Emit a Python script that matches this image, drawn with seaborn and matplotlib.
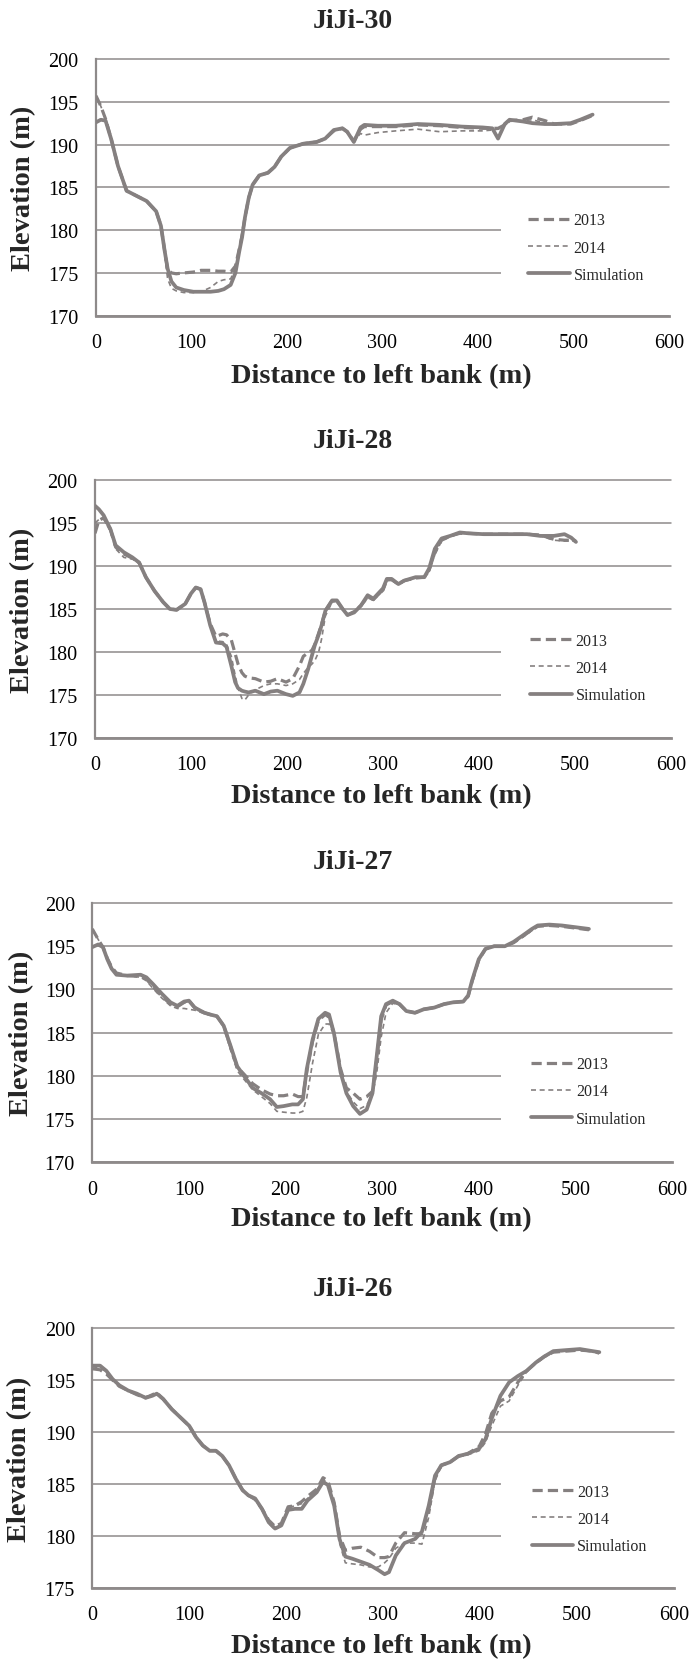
import numpy as np
import pandas as pd
import matplotlib
matplotlib.use("Agg")
import matplotlib.pyplot as plt
from matplotlib.patches import Rectangle
import seaborn as sns

# ---------------- data ----------------
series_names = ["2013", "2014", "Simulation"]
x_ticks = [0, 100, 200, 300, 400, 500, 600]

titles = ["JiJi-30", "JiJi-28", "JiJi-27", "JiJi-26"]
y_limits = [(170, 200), (170, 200), (170, 200), (175, 200)]

# JiJi-30
jj30_x = [0, 5, 10, 16, 23, 32, 39, 53, 63, 68,
          72, 75, 79, 84, 92, 102, 110, 120, 128, 134,
          141, 146, 150, 153, 156, 160, 164, 171, 180, 187,
          194, 203, 217, 231, 240, 249, 258, 263, 270, 277,
          281, 295, 314, 337, 360, 383, 405, 415, 421, 428,
          433, 447, 457, 470, 480, 497, 507, 520]
jj30_2013 = [195.7, 194.5, 193.0, 190.6, 187.5, 184.6, 184.2, 183.4, 182.2, 180.5,
             177.5, 175.4, 175.0, 174.9, 175.0, 175.1, 175.3, 175.3, 175.2, 175.2,
             175.1, 175.8, 177.8, 179.4, 181.5, 183.8, 185.3, 186.4, 186.7, 187.4,
             188.6, 189.6, 190.1, 190.3, 190.7, 191.6, 191.9, 191.5, 190.4, 191.8,
             192.1, 192.1, 192.1, 192.3, 192.2, 192.0, 191.9, 191.9, 191.9, 192.3,
             192.8, 192.9, 193.2, 192.8, 192.4, 192.4, 192.8, 193.4]
jj30_2014 = [195.7, 194.5, 193.0, 190.6, 187.5, 184.6, 184.2, 183.4, 182.2, 180.5,
             177.0, 174.3, 173.2, 172.9, 172.7, 172.7, 172.8, 173.3, 174.0, 174.2,
             174.3, 175.6, 177.6, 179.3, 181.5, 183.8, 185.3, 186.4, 186.7, 187.4,
             188.6, 189.6, 190.1, 190.3, 190.7, 191.6, 191.9, 191.5, 190.4, 191.3,
             191.1, 191.4, 191.6, 191.8, 191.5, 191.6, 191.6, 191.7, 191.8, 192.2,
             192.8, 192.8, 192.9, 192.5, 192.3, 192.4, 192.8, 193.4]
jj30_sim = [192.6, 192.9, 192.8, 190.6, 187.5, 184.6, 184.2, 183.4, 182.2, 180.5,
            177.5, 175.5, 174.0, 173.3, 173.0, 172.8, 172.8, 172.8, 172.9, 173.1,
            173.6, 175.0, 177.5, 179.2, 181.5, 183.8, 185.3, 186.4, 186.7, 187.4,
            188.6, 189.6, 190.1, 190.3, 190.7, 191.7, 191.9, 191.5, 190.3, 192.0,
            192.3, 192.2, 192.2, 192.4, 192.3, 192.1, 192.0, 191.9, 190.7, 192.4,
            192.9, 192.7, 192.5, 192.4, 192.4, 192.5, 192.9, 193.5]

# JiJi-28
jj28_x = [0, 4, 9, 16, 21.5, 30, 39, 46, 53, 62,
          71, 78, 85, 94, 100, 105, 110, 114, 120, 126,
          133, 137, 142, 146, 149, 153, 156, 160, 167, 176,
          183, 190, 199, 206, 213, 217, 222, 226, 229, 233,
          236, 240, 247, 252, 258, 263, 270, 277, 284, 290,
          300, 304, 309, 316, 322, 334, 343, 348, 354, 361,
          370, 380, 389, 405, 428, 450, 464, 478, 489, 496,
          501]
jj28_2013 = [193.8, 195.3, 195.6, 194.3, 192.2, 191.4, 190.9, 190.4, 188.7, 187.1,
             185.8, 185.0, 184.9, 185.6, 186.8, 187.5, 187.3, 185.8, 183.3, 181.8,
             182.1, 182.0, 181.4, 179.8, 178.6, 177.6, 177.2, 177.0, 176.9, 176.5,
             176.6, 176.9, 176.5, 176.9, 178.4, 179.5, 179.9, 180.2, 180.9, 182.2,
             183.2, 184.8, 186.0, 185.9, 185.0, 184.3, 184.7, 185.4, 186.4, 186.1,
             187.2, 188.4, 188.4, 187.9, 188.3, 188.6, 188.7, 189.5, 191.6, 193.0,
             193.5, 193.8, 193.8, 193.7, 193.7, 193.7, 193.6, 193.1, 193.0, 193.0,
             192.9]
jj28_2014 = [195.0, 195.4, 195.5, 194.0, 192.0, 191.0, 190.8, 190.3, 188.6, 187.1,
             185.8, 185.0, 184.9, 185.6, 186.8, 187.5, 187.3, 185.8, 183.2, 181.3,
             181.2, 180.9, 179.5, 177.3, 175.8, 174.6, 174.4, 175.0, 175.6, 176.1,
             176.3, 176.3, 176.1, 176.3, 176.8, 177.5, 178.2, 178.6, 179.0, 180.0,
             181.5, 184.2, 185.8, 185.9, 185.0, 184.3, 184.6, 185.3, 186.3, 186.0,
             187.1, 188.3, 188.4, 187.8, 188.2, 188.6, 188.6, 189.3, 191.3, 192.9,
             193.4, 193.8, 193.8, 193.7, 193.7, 193.7, 193.5, 193.0, 192.9, 192.9,
             192.9]
jj28_sim = [197.0, 196.6, 195.9, 194.3, 192.4, 191.6, 191.0, 190.4, 188.7, 187.1,
            185.8, 185.0, 184.9, 185.6, 186.8, 187.5, 187.3, 185.8, 183.1, 181.1,
            181.0, 180.6, 178.4, 176.5, 175.8, 175.5, 175.4, 175.3, 175.5, 175.1,
            175.4, 175.5, 175.1, 174.9, 175.3, 176.3, 178.0, 179.6, 180.8, 182.0,
            183.1, 184.8, 186.0, 186.0, 185.0, 184.3, 184.6, 185.4, 186.6, 186.2,
            187.4, 188.5, 188.5, 187.9, 188.3, 188.7, 188.7, 189.7, 192.0, 193.2,
            193.5, 193.9, 193.8, 193.7, 193.7, 193.7, 193.5, 193.5, 193.7, 193.3,
            192.8]

# JiJi-27
jj27_x = [0, 6, 11, 15.5, 20, 25, 36, 50, 56, 63,
          72, 81, 88, 95, 100, 106, 116, 122, 129, 136,
          143, 150, 157, 166, 175, 184, 191, 198, 207, 213,
          218, 222, 228, 234, 241, 245, 250, 257, 263, 270,
          277, 284, 290, 294, 299, 304, 311, 318, 325, 334,
          343, 354, 364, 373, 384, 389, 393, 400, 407, 416,
          427, 436, 445, 455, 461, 473, 486, 500, 514]
jj27_2013 = [197.0, 195.8, 194.9, 193.6, 192.6, 191.9, 191.6, 191.5, 191.2, 190.3,
             189.2, 188.3, 188.0, 188.5, 188.7, 187.9, 187.3, 187.1, 186.9, 185.8,
             183.4, 181.0, 180.2, 179.1, 178.4, 177.9, 177.7, 177.7, 177.9, 177.6,
             177.6, 180.5, 184.0, 186.4, 187.1, 186.8, 185.0, 180.8, 178.6, 178.0,
             177.3, 177.6, 178.2, 181.5, 186.5, 188.2, 188.6, 188.3, 187.5, 187.3,
             187.7, 187.9, 188.3, 188.5, 188.6, 189.2, 190.9, 193.4, 194.7, 195.0,
             195.0, 195.4, 196.1, 196.9, 197.3, 197.4, 197.3, 197.1, 196.9]
jj27_2014 = [197.0, 195.8, 194.9, 193.4, 192.3, 191.8, 191.6, 191.4, 191.0, 190.1,
             189.0, 188.1, 187.8, 187.8, 187.7, 187.6, 187.2, 187.0, 186.9, 185.6,
             183.0, 180.6, 179.6, 178.4, 177.6, 176.8, 175.9, 175.8, 175.7, 175.7,
             175.9, 177.5, 181.5, 184.8, 186.0, 186.0, 184.8, 180.8, 178.2, 177.0,
             176.2, 176.6, 177.8, 180.0, 184.5, 187.3, 188.4, 188.2, 187.5, 187.3,
             187.7, 187.9, 188.3, 188.5, 188.6, 189.2, 190.9, 193.4, 194.7, 195.0,
             195.0, 195.4, 196.0, 196.8, 197.3, 197.4, 197.3, 197.1, 196.9]
jj27_sim = [194.9, 195.2, 194.9, 193.5, 192.4, 191.7, 191.6, 191.7, 191.4, 190.6,
            189.5, 188.5, 188.1, 188.6, 188.7, 187.9, 187.3, 187.1, 186.9, 185.8,
            183.5, 181.1, 180.0, 178.6, 178.0, 177.3, 176.4, 176.5, 176.7, 176.7,
            177.3, 180.8, 184.2, 186.6, 187.3, 187.1, 185.0, 180.4, 178.0, 176.5,
            175.6, 176.1, 178.0, 181.9, 186.9, 188.3, 188.7, 188.3, 187.5, 187.3,
            187.7, 187.9, 188.3, 188.5, 188.6, 189.3, 191.0, 193.5, 194.7, 195.0,
            195.0, 195.5, 196.2, 197.0, 197.4, 197.5, 197.4, 197.2, 197.0]

# JiJi-26
jj26_x = [0, 8, 14.5, 21, 28, 37, 46, 55, 62, 66.5,
          73, 82, 91, 100, 107, 114, 121, 127.5, 134, 141,
          148, 155, 161, 168, 175, 182, 188.5, 195, 202, 209,
          216, 222, 231.5, 238, 243, 249.5, 255, 261, 268, 277,
          286, 295, 301.5, 306, 313, 322, 333, 340, 347, 353.5,
          360, 369, 378, 387, 399, 405.5, 412, 421, 430, 439,
          448, 457.5, 466.5, 475.5, 489, 503, 516, 523]
jj26_2013 = [196.1, 196.0, 195.6, 195.0, 194.4, 194.0, 193.6, 193.3, 193.6, 193.8,
             193.2, 192.2, 191.4, 190.6, 189.5, 188.7, 188.2, 188.2, 187.7, 186.8,
             185.5, 184.4, 183.9, 183.5, 182.6, 181.5, 180.9, 181.2, 182.8, 182.9,
             183.3, 183.8, 184.5, 185.6, 185.3, 183.2, 180.0, 178.6, 178.8, 178.9,
             178.5, 177.9, 177.9, 178.0, 179.3, 180.3, 180.2, 180.2, 182.5, 185.6,
             186.8, 187.1, 187.7, 187.9, 188.6, 189.8, 191.8, 193.0, 193.4, 194.8,
             195.9, 196.7, 197.3, 197.7, 197.8, 197.9, 197.8, 197.6]
jj26_2014 = [196.3, 196.2, 195.8, 195.1, 194.5, 194.0, 193.6, 193.4, 193.6, 193.6,
             193.1, 192.2, 191.4, 190.6, 189.5, 188.7, 188.2, 188.2, 187.7, 186.8,
             185.5, 184.4, 183.9, 183.5, 182.5, 181.2, 180.6, 181.0, 182.7, 182.9,
             183.1, 183.6, 184.4, 185.4, 185.1, 182.8, 179.3, 177.4, 177.3, 177.2,
             177.0, 177.0, 177.4, 177.8, 178.8, 179.3, 179.3, 179.2, 181.8, 185.3,
             186.7, 187.1, 187.6, 187.8, 188.2, 189.0, 190.6, 192.5, 193.0, 194.5,
             195.8, 196.6, 197.2, 197.7, 197.8, 197.9, 197.8, 197.6]
jj26_sim = [196.4, 196.4, 195.9, 195.1, 194.5, 194.0, 193.7, 193.3, 193.5, 193.7,
            193.2, 192.2, 191.4, 190.6, 189.5, 188.7, 188.2, 188.2, 187.7, 186.8,
            185.5, 184.4, 183.9, 183.6, 182.6, 181.3, 180.7, 181.0, 182.5, 182.6,
            182.6, 183.4, 184.2, 185.2, 184.9, 182.9, 179.7, 178.0, 177.8, 177.5,
            177.2, 176.7, 176.3, 176.5, 178.1, 179.3, 179.7, 180.4, 182.9, 185.8,
            186.8, 187.1, 187.7, 187.9, 188.4, 189.3, 191.3, 193.5, 194.8, 195.4,
            195.9, 196.7, 197.3, 197.8, 197.9, 198.0, 197.8, 197.7]

panels_data = [
    (jj30_x, jj30_2013, jj30_2014, jj30_sim),
    (jj28_x, jj28_2013, jj28_2014, jj28_sim),
    (jj27_x, jj27_2013, jj27_2014, jj27_sim),
    (jj26_x, jj26_2013, jj26_2014, jj26_sim),
]

# ---------------- layout (pixels) ----------------
W, H = 689, 1665
layout = [
    dict(l=96, r=669, t=60, b=316.7, title_y=22, ylab_x=24, xlab_y=377,
         leg_x=528, leg_y=248.5, box_t=203, box_b=297),
    dict(l=95, r=671, t=481, b=739, title_y=442, ylab_x=23, xlab_y=797,
         leg_x=530, leg_y=669, box_t=624, box_b=718),
    dict(l=92.3, r=672, t=904, b=1163.3, title_y=863, ylab_x=22, xlab_y=1220,
         leg_x=530.7, leg_y=1092.5, box_t=1048, box_b=1142),
    dict(l=92.3, r=674, t=1329.3, b=1588.7, title_y=1290, ylab_x=20, xlab_y=1646.5,
         leg_x=531.7, leg_y=1520, box_t=1475, box_b=1568),
]

sns.set_theme(style="white")
plt.rcParams["font.family"] = ["Liberation Serif", "DejaVu Serif"]

line_color = "#858080"
grid_color = "#8e8a8a"
styles = {
    "2013": dict(lw=2.3, ls=(0, (3.2, 1.6))),
    "2014": dict(lw=1.2, ls=(0, (3.0, 2.2))),
    "Simulation": dict(lw=2.7, ls="-"),
}

fig = plt.figure(figsize=(W / 100, H / 100), dpi=100)

for i, (lay, title, ylim, pdata) in enumerate(zip(layout, titles, y_limits, panels_data)):
    l, r, t, b = lay["l"], lay["r"], lay["t"], lay["b"]
    ax = fig.add_axes([l / W, 1 - b / H, (r - l) / W, (b - t) / H])
    xs = pdata[0]
    df = pd.concat([
        pd.DataFrame({"x": xs, "elev": ys, "series": name})
        for name, ys in zip(series_names, pdata[1:])
    ], ignore_index=True)

    for name in series_names:
        st = styles[name]
        sns.lineplot(data=df[df["series"] == name], x="x", y="elev", ax=ax,
                     color=line_color, linewidth=st["lw"], linestyle=st["ls"],
                     estimator=None, sort=False, label=name, legend=False,
                     zorder=3, solid_joinstyle="round", dash_joinstyle="round")

    ax.set_xlim(0, 600)
    ax.set_ylim(*ylim)
    ax.set_xticks(x_ticks)
    ax.set_yticks(np.arange(ylim[0], ylim[1] + 1, 5))
    ax.set_axisbelow(True)
    ax.yaxis.grid(True, color=grid_color, lw=1.1)
    ax.xaxis.grid(False)
    for gl in ax.get_ygridlines():
        gl.set_clip_on(False)
    for side in ["top", "right"]:
        ax.spines[side].set_visible(False)
    ax.spines["left"].set_color(grid_color)
    ax.spines["left"].set_linewidth(1.6)
    ax.spines["bottom"].set_color(grid_color)
    ax.spines["bottom"].set_linewidth(2.0)
    ax.tick_params(axis="both", length=0, labelsize=14.5, colors="black")
    ax.tick_params(axis="x", pad=12.5)
    ax.tick_params(axis="y", pad=12.5)

    def to_ax(xp, yp):
        return (xp - l) / (r - l), (b - yp) / (b - t)

    # white legend backing box (covers gridlines like the original chart)
    bx0, by0 = to_ax(501, lay["box_b"])
    bx1, by1 = to_ax(r + 3, lay["box_t"])
    ax.add_patch(Rectangle((bx0, by0), bx1 - bx0, by1 - by0, transform=ax.transAxes,
                           facecolor="white", edgecolor="none", zorder=1, clip_on=False))

    handles, labels = ax.get_legend_handles_labels()
    lx, ly = to_ax(lay["leg_x"], lay["leg_y"])
    ax.legend(handles, labels, loc="center left", bbox_to_anchor=(lx, ly),
              bbox_transform=ax.transAxes, frameon=False, borderpad=0, borderaxespad=0,
              fontsize=11.5, handlelength=2.6, handletextpad=0.25, labelspacing=0.7)

    ax.set_xlabel("Distance to left bank (m)", fontsize=20.5, fontweight="bold", va="center")
    ax.set_ylabel("Elevation (m)", fontsize=20.5, fontweight="bold", va="center")
    xlx, xly = to_ax(381, lay["xlab_y"])
    ax.xaxis.set_label_coords(xlx, xly)
    ylx, yly = to_ax(lay["ylab_x"], (t + b) / 2)
    ax.yaxis.set_label_coords(ylx, yly)

    fig.text(353 / W, 1 - lay["title_y"] / H, title, ha="center", va="center",
             fontsize=20, fontweight="bold")

fig.savefig("out.png", dpi=100)
